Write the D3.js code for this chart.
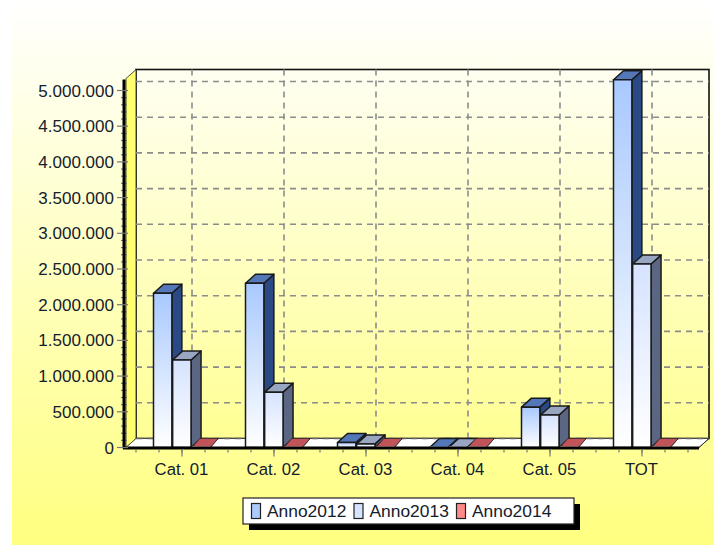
<!DOCTYPE html>
<html><head><meta charset="utf-8">
<script src="https://cdn.jsdelivr.net/npm/d3@7"></script>
<style>html,body{margin:0;padding:0;background:#fff}svg{display:block}text{font-family:"Liberation Sans",Arial,sans-serif;fill:#14202c}</style>
</head><body><div id="c"></div>
<script>
const categories = ["Cat. 01","Cat. 02","Cat. 03","Cat. 04","Cat. 05","TOT"];
const seriesNames = ["Anno2012","Anno2013","Anno2014"];
const anno2012 = [2160000,2300000,70000,0,565000,5150000];
const anno2013 = [1225000,775000,50000,0,455000,2570000];
const anno2014 = [0,0,0,0,0,0];
const seriesValues = [anno2012,anno2013,anno2014];
const yTicks = [0,500000,1000000,1500000,2000000,2500000,3000000,3500000,4000000,4500000,5000000];
const yTickLabels = ["0","500.000","1.000.000","1.500.000","2.000.000","2.500.000","3.000.000","3.500.000","4.000.000","4.500.000","5.000.000"];
const styles = [
 {top:"#a9c9ff",bottom:"#ffffff",side:"#2a4a86",cap:"#5477b8",swatch:"#a9c9ff"},
 {top:"#d6e3ff",bottom:"#ffffff",side:"#5a6682",cap:"#98a6c2",swatch:"#d6e3ff"},
 {top:"#ff9090",bottom:"#ffdddd",side:"#8a3a3a",cap:"#c05458",swatch:"#ff8a8a"}
];
const W=714,H=546,DX=10,DY=9;
const svg=d3.select("#c").append("svg").attr("width",W).attr("height",H);
const defs=svg.append("defs");
function grad(id,c1,c2){const g=defs.append("linearGradient").attr("id",id).attr("x1",0).attr("y1",0).attr("x2",0).attr("y2",1);
 g.append("stop").attr("offset",0).attr("stop-color",c1);g.append("stop").attr("offset",1).attr("stop-color",c2);}
grad("bg","#ffffff","#ffff80");grad("wall","#fffff2","#ffff94");
styles.forEach((s,i)=>grad("bar"+i,s.top,s.bottom));

const x=d3.scaleBand().domain(categories).range([136,688]);
const xs=d3.scaleBand().domain(seriesNames).range([17.5,75]);
const y=d3.scaleLinear().domain([0,5000000]).range([447.5,90.5]);
const y0=y(0),xL=126,xR=699,yTop=78.5;

svg.append("rect").attr("x",12).attr("y",0).attr("width",W-12).attr("height",H-1).attr("fill","url(#bg)");

svg.append("rect").attr("x",xL+DX).attr("y",yTop-DY).attr("width",xR-xL).attr("height",y0-yTop)
  .attr("fill","url(#wall)").attr("stroke","#111").attr("stroke-width",1.6);
svg.append("path").attr("d",`M${xL},${y0}L${xL},${yTop}L${xL+DX},${yTop-DY}L${xL+DX},${y0-DY}Z`)
  .attr("fill","#ffff70").attr("stroke","#222").attr("stroke-width",0.8);
svg.append("path").attr("d",`M${xL},${y0}L${xL+DX},${y0-DY}L${xR+DX},${y0-DY}L${xR},${y0}Z`)
  .attr("fill","#fff").attr("stroke","#333").attr("stroke-width",0.8);

const grid=svg.append("g").attr("stroke","#8c8c8c").attr("stroke-width",1.6).attr("stroke-dasharray","6 5").attr("fill","none");
grid.selectAll("line.h").data(yTicks.slice(1)).join("line").attr("class","h")
  .attr("x1",xL+DX).attr("x2",xR+DX).attr("y1",d=>y(d)-DY).attr("y2",d=>y(d)-DY);
grid.selectAll("line.v").data(categories).join("line").attr("class","v")
  .attr("x1",d=>x(d)+x.bandwidth()/2+DX).attr("x2",d=>x(d)+x.bandwidth()/2+DX)
  .attr("y1",yTop-DY).attr("y2",y0-DY);
svg.append("line").attr("x1",xL+DX).attr("x2",xR+DX).attr("y1",y0-DY).attr("y2",y0-DY)
  .attr("stroke","#666").attr("stroke-width",1.4).attr("stroke-dasharray","6 5");

const barsG=svg.append("g");
categories.forEach((c,ci)=>{
  seriesNames.forEach((n,si)=>{
    const v=seriesValues[si][ci],s=styles[si];
    const bx=x(c)+xs(n),bw=xs.bandwidth()-0.8,yt=y(v),g=barsG.append("g").attr("stroke","#1a1a1a").attr("stroke-width",si===2?0.6:1.5).attr("stroke-linejoin","round");
    const dx=si===2?8:DX;
    g.append("path").attr("d",`M${bx+bw},${y0}L${bx+bw},${yt}L${bx+bw+dx},${yt-DY}L${bx+bw+dx},${y0-DY}Z`).attr("fill",s.side);
    g.append("path").attr("d",`M${bx},${yt}L${bx+dx},${yt-DY}L${bx+bw+dx},${yt-DY}L${bx+bw},${yt}Z`).attr("fill",s.cap);
    if(v>0) g.append("rect").attr("x",bx).attr("y",yt).attr("width",bw).attr("height",y0-yt).attr("fill",`url(#bar${si})`);
    else g.append("line").attr("x1",bx).attr("x2",bx+bw).attr("y1",y0-0.5).attr("y2",y0-0.5).attr("stroke",si===2?"#e8c4c4":s.top).attr("stroke-width",1.5);
  });
});

const minorY=d3.range(0,5000001,100000).filter(d=>d%500000!==0);
svg.append("g").attr("stroke","#777").attr("stroke-width",1.2).selectAll("line").data(minorY).join("line")
  .attr("x1",121).attr("x2",127).attr("y1",d=>y(d)).attr("y2",d=>y(d));
svg.append("line").attr("x1",xL-2).attr("x2",xL-2).attr("y1",yTop+1).attr("y2",y0+1).attr("stroke","#000").attr("stroke-width",3);
svg.append("line").attr("x1",xL-3).attr("x2",xR).attr("y1",y0+0.5).attr("y2",y0+0.5).attr("stroke","#000").attr("stroke-width",3);
svg.append("path").attr("d",`M${xR},${y0}L${xR+DX},${y0-DY}`).attr("stroke","#333").attr("stroke-width",1);
svg.append("g").attr("stroke","#777").attr("stroke-width",1.2).selectAll("line").data(yTicks).join("line")
  .attr("x1",117).attr("x2",128).attr("y1",d=>y(d)).attr("y2",d=>y(d));
const minorX=d3.range(0,25).map(i=>136+i*x.bandwidth()/4);
svg.append("g").attr("stroke","#777").attr("stroke-width",1.2).selectAll("line").data(minorX).join("line")
  .attr("x1",d=>d).attr("x2",d=>d).attr("y1",y0+2).attr("y2",y0+5);
svg.append("g").attr("stroke","#777").attr("stroke-width",1.2).selectAll("line").data(categories).join("line")
  .attr("x1",d=>x(d)+x.bandwidth()/2).attr("x2",d=>x(d)+x.bandwidth()/2).attr("y1",y0+2).attr("y2",y0+9);

svg.append("g").selectAll("text").data(yTicks).join("text")
  .attr("x",114).attr("y",d=>y(d)+6).attr("text-anchor","end").attr("font-size",17).text((d,i)=>yTickLabels[i]);
svg.append("g").selectAll("text").data(categories).join("text")
  .attr("x",d=>x(d)+x.bandwidth()/2-0.5).attr("y",475).attr("text-anchor","middle").attr("font-size",16.7).text(d=>d);

const lg=svg.append("g");
lg.append("rect").attr("x",249).attr("y",504).attr("width",331).attr("height",26).attr("fill","#000");
lg.append("rect").attr("x",243).attr("y",498).attr("width",331).attr("height",26).attr("fill","#fff").attr("stroke","#222").attr("stroke-width",1.2);
const lx=d3.scalePoint().domain(seriesNames).range([251,456]);
seriesNames.forEach((n,i)=>{
  lg.append("rect").attr("x",lx(n)+0.5).attr("y",503.5).attr("width",9).attr("height",15).attr("fill",styles[i].swatch).attr("stroke","#222").attr("stroke-width",1.2);
  lg.append("text").attr("x",lx(n)+16).attr("y",517).attr("font-size",17.4).text(n);
});
</script></body></html>
